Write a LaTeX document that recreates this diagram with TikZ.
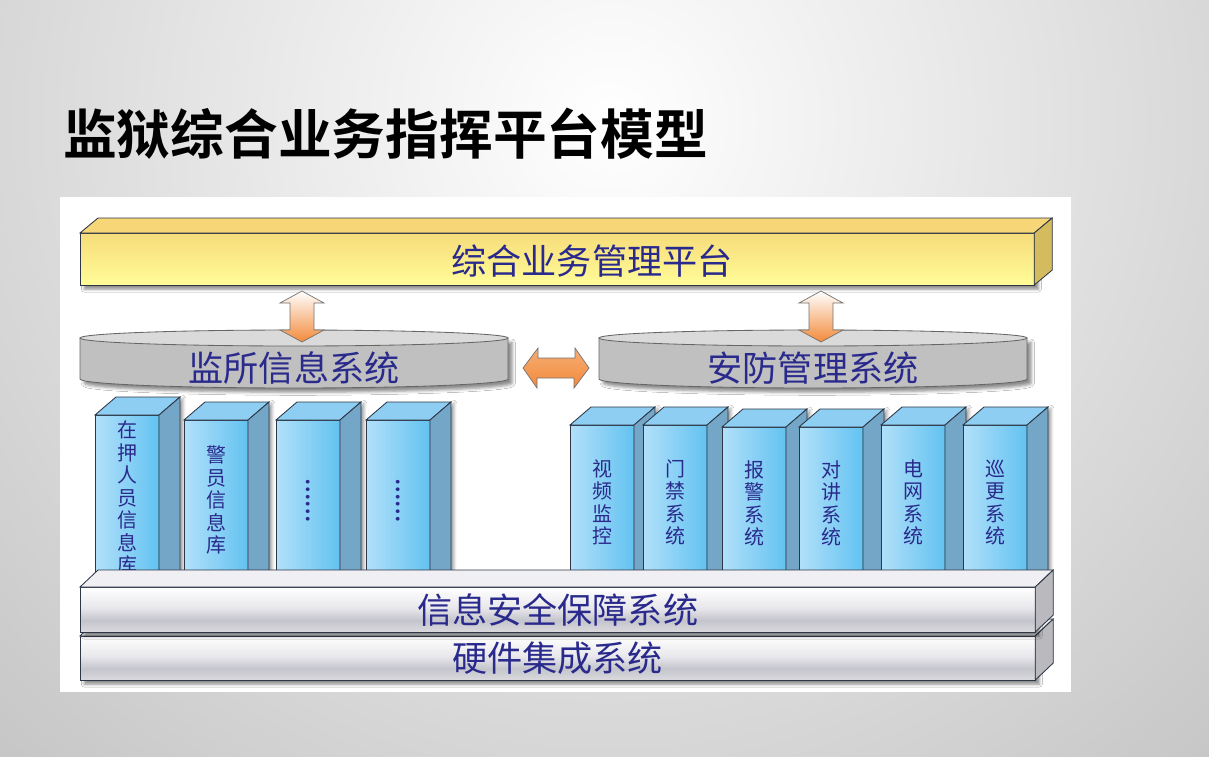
\documentclass[tikz,border=0pt]{standalone}
\usepackage{fontspec}
\setmainfont{Noto Sans CJK SC}[BoldFont={Noto Sans CJK SC Bold}]
\usetikzlibrary{calc, shadows.blur}
\definecolor{ink}{RGB}{42,42,140}
\definecolor{edge}{RGB}{45,55,70}
\definecolor{bluL}{RGB}{178,224,250}
\definecolor{bluR}{RGB}{98,194,240}
\definecolor{bluT}{RGB}{142,206,242}
\definecolor{bluS}{RGB}{116,166,200}
\definecolor{yelT}{RGB}{246,214,118}
\definecolor{yelA}{RGB}{247,220,122}
\definecolor{yelB}{RGB}{255,252,152}
\definecolor{yelS}{RGB}{212,188,94}
\definecolor{dsk}{RGB}{192,192,192}
\definecolor{dskT}{RGB}{218,218,218}
\definecolor{org}{RGB}{242,138,58}
\definecolor{barA}{RGB}{232,232,236}
\definecolor{barB}{RGB}{196,196,204}
\definecolor{barC}{RGB}{218,218,222}
\definecolor{barT}{RGB}{240,240,244}
\definecolor{barS}{RGB}{186,186,190}
\pgfdeclareverticalshading{barshade}{100bp}{color(0bp)=(barC); color(25bp)=(barC); color(38bp)=(barB); color(52bp)=(barA); color(75bp)=(white); color(100bp)=(white)}
\tikzset{>=stealth,
  face/.style={draw=edge, line width=0.6pt},
  txt/.style={text=ink, font=\fontsize{25}{25}\selectfont},
  vtxt/.style={text=ink, font=\fontsize{14.2}{16}\selectfont, align=center, inner sep=0pt},
  blufront/.style={face, left color=bluL, right color=bluR, minimum width=1.6cm, outer sep=0pt, inner sep=0pt},
  bar/.style={face, anchor=north west, outer sep=0pt, inner sep=0pt, txt,
    blur shadow={shadow xshift=3pt, shadow yshift=-3pt, shadow blur radius=2pt, shadow opacity=45}},
  fatarrow/.style={draw=black!55, line width=0.5pt}}

\begin{document}
\begin{tikzpicture}[x=0.025cm, y=-0.025cm]
    \useasboundingbox (0,0) rectangle (1209,756);
    \begin{scope}
        \clip (0,0) rectangle (1209,756);
        \shade[inner color=white, outer color=black!24] (610,120) circle (950);
    \end{scope}
    \fill[white] (60,197) rectangle (1071,692);
    \node[anchor=west, inner sep=0pt, font=\bfseries\fontsize{38.2}{40}\selectfont] (title) at (63,134) {监狱综合业务指挥平台模型};

    \node[bar, top color=yelA, bottom color=yelB, minimum width=23.85cm, minimum height=1.3cm] (plat) at (80,233) {};
    \filldraw[face, fill=yelT] (plat.north west) -- ++(18,-15) -- ++(954,0) -- (plat.north east) -- cycle;
    \filldraw[face, fill=yelS] (plat.north east) -- ++(18,-15) -- ++(0,52) -- (plat.south east) -- cycle;
    \node[txt] (plat-t) at (592,261) {综合业务管理平台};

    \foreach \n/\x/\t in {lsys/294/监所信息系统, rsys/813/安防管理系统}{
        \filldraw[face, draw=black!60, fill=dsk, blur shadow={shadow xshift=3pt, shadow yshift=-3pt, shadow opacity=45}]
            ({\x-214},338) -- ({\x-214},379) arc[start angle=180, end angle=0, x radius=214, y radius=9] -- ({\x+214},338) -- cycle;
        \filldraw[face, draw=black!60, fill=dskT] (\x,338) ellipse[x radius=214, y radius=8];
        \node[txt] (\n) at (\x,368) {\t};
        \coordinate (\n-in) at ({\x+8},342);
        \coordinate (\n-w) at ({\x-214},368);
        \coordinate (\n-e) at ({\x+214},368);
    }

    \foreach \n in {lsys,rsys}
        \shadedraw[fatarrow, top color=white, bottom color=org] ($(plat.south -| \n-in)+(0,6)$) -- ++(22,12) -- ++(-10,0) -- ++(0,27) -- ++(10,0) -- (\n-in) -- ++(-22,-12) -- ++(10,0) -- ++(0,-27) -- ++(-10,0) -- cycle;
    \shadedraw[fatarrow, top color=org!70, middle color=white, bottom color=org] ($(lsys-e)+(15,0)$) -- ++(15,-20) -- ++(0,10) -- ++(37,0) -- ++(0,-10) -- ($(rsys-w)+(-10,0)$) -- ++(-15,20) -- ++(0,-10) -- ++(-37,0) -- ++(0,10) -- cycle;

    \foreach \n/\x/\y in {l1/95/415, l2/184/420, l3/276/420, l4/366/420, r1/570/425, r2/643/425, r3/722/427, r4/799/427, r5/881/425, r6/963/425}{
        \node[blufront, anchor=north west, minimum height={(580-\y)*0.025cm}] (\n) at (\x,\y) {};
        \filldraw[face, fill=bluT] (\n.north west) -- ++(21,-18) -- ++(64,0) -- (\n.north east) -- cycle;
        \filldraw[face, fill=bluS, blur shadow={shadow xshift=2pt, shadow yshift=-1pt, shadow opacity=40}] (\n.north east) -- ++(21,-18) -- ++(0,{598-\y}) -- (\n.south east) -- cycle;
    }
    \foreach \n/\t in {l1/{在\\押\\人\\员\\信\\息\\库}, l2/{警\\员\\信\\息\\库}, r1/{视\\频\\监\\控}, r2/{门\\禁\\系\\统}, r3/{报\\警\\系\\统}, r4/{对\\讲\\系\\统}, r5/{电\\网\\系\\统}, r6/{巡\\更\\系\\统}}
        \node[vtxt] (\n-t) at (\n.center) {\t};
    \foreach \n in {l3,l4}
        \node[vtxt, font=\bfseries\fontsize{14.2}{16}\selectfont, rotate=-90] (\n-t) at (\n.center) {……};

    \node[bar, shading=barshade, minimum width=23.875cm, minimum height=1.1cm] (hw) at (80,636) {硬件集成系统};
    \filldraw[face, fill=barT] (hw.north west) -- ++(18,-17) -- ++(955,0) -- (hw.north east) -- cycle;
    \filldraw[face, fill=barS] (hw.north east) -- ++(18,-17) -- ++(0,44) -- (hw.south east) -- cycle;
    \node[bar, shading=barshade, minimum width=23.875cm, minimum height=1.125cm] (sec) at (80,587) {信息安全保障系统};
    \filldraw[face, fill=barT] (sec.north west) -- ++(18,-17) -- ++(955,0) -- (sec.north east) -- cycle;
    \filldraw[face, fill=barS] (sec.north east) -- ++(18,-17) -- ++(0,45) -- (sec.south east) -- cycle;
\end{tikzpicture}
\end{document}
